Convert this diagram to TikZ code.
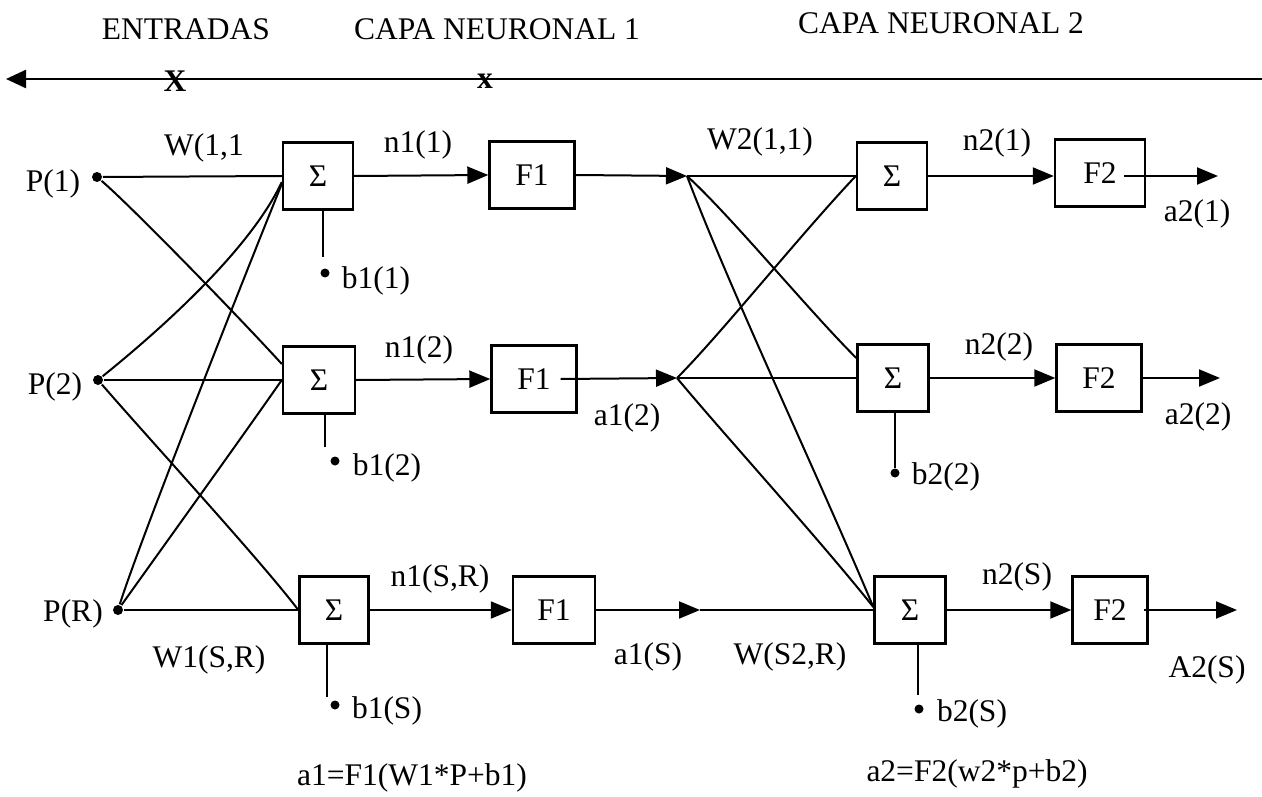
\documentclass[tikz,border=0pt]{standalone}
\usepackage{fontspec}
\setmainfont{Liberation Serif}
\usetikzlibrary{arrows.meta}
\begin{document}
\begin{tikzpicture}[x=1pt,y=-1pt,
  font=\fontsize{31.5}{36}\selectfont,
  line width=2pt,
  box/.style={draw, line width=2.4pt, inner sep=0pt, minimum height=67pt},
  sbox/.style={box, minimum width=70pt},
  lbl/.style={inner sep=0pt},
  pdot/.style={circle, fill, inner sep=0pt, minimum size=10pt},
  bdot/.style={circle, fill, inner sep=0pt, minimum size=9pt},
  arr/.style={-{Triangle[length=21pt,width=17pt]}},
]
\useasboundingbox (0,0) rectangle (1262,797);

% header
\node[lbl, anchor=base] (hin) at (186,40) {ENTRADAS};
\node[lbl, anchor=base] (hc1) at (497,40) {CAPA NEURONAL 1};
\node[lbl, anchor=base] (hc2) at (941,34) {CAPA NEURONAL 2};
\coordinate (axR) at (1262,79);
\coordinate (axL) at (6,79);
\draw[line width=2.4pt, -{Triangle[length=20pt,width=18pt]}] (axR) -- (axL);
\node[lbl, font=\fontsize{31.5}{36}\selectfont\bfseries] (mk1) at (175,81) {X};
\node[lbl, font=\fontsize{31.5}{36}\selectfont\bfseries] (mk2) at (485,81) {x};

% inputs
\node[pdot] (p1) at (97,177) {};
\node[pdot] (p2) at (98,380) {};
\node[pdot] (pR) at (118,610) {};
\node[lbl] (lp1) at (53,184) {P(1)};
\node[lbl] (lp2) at (55,387) {P(2)};
\node[lbl] (lpR) at (73,614) {P(R)};

% layer 1
\node[sbox] (s11) at (318,176) {Σ};
\node[sbox, minimum width=72pt] (s12) at (319,380) {Σ};
\node[sbox, minimum width=69pt] (s13) at (334,610) {Σ};
\node[box, minimum width=85pt] (f11) at (532,175) {F1};
\node[box, minimum width=85pt] (f12) at (534,379) {F1};
\node[box, minimum width=82pt] (f13) at (554,610) {F1};

\draw (p1) -- (s11.west);
\draw (p1) .. controls (130,205) and (240,318) .. ([yshift=16pt]s12.west);
\draw (p2) .. controls (160,330) and (250,250) .. ([yshift=-6pt]s11.west);
\draw (p2) -- (s12.west);
\draw (p2) .. controls (150,440) and (262,562) .. (s13.west);
\draw (pR) .. controls (140,540) and (250,262) .. ([yshift=-8pt]s11.west);
\draw (pR) .. controls (150,565) and (240,440) .. (s12.west);
\draw (pR) -- (s13.west);

\draw[arr] (s11.east) -- (f11.west);
\draw[arr] (s12.east) -- (f12.west);
\draw[arr] (s13.east) -- (f13.west);

\node[lbl] (w11) at (204,148) {W(1,1};
\node[lbl] (n11) at (418,145) {n1(1)};
\node[lbl] (n12) at (419,350) {n1(2)};
\node[lbl] (n1S) at (440,579) {n1(S,R)};
\node[lbl] (w1S) at (209,660) {W1(S,R)};

% biases layer 1
\coordinate (b11e) at (323,257);
\coordinate (b12e) at (325,447);
\coordinate (b13e) at (327,697);
\draw (s11.south -| b11e) -- (b11e);
\draw (s12.south -| b12e) -- (b12e);
\draw (s13.south -| b13e) -- (b13e);
\node[bdot] (d11) at (325,273) {};
\node[bdot] (d12) at (335,461) {};
\node[bdot] (d13) at (335,705) {};
\node[lbl] (lb11) at (376,281) {b1(1)};
\node[lbl] (lb12) at (387,468) {b1(2)};
\node[lbl] (lb13) at (387,711) {b1(S)};

\node[lbl] (eq1) at (412,778) {a1=F1(W1*P+b1)};

% outputs of layer 1
\coordinate (t1) at (687,176);
\coordinate (t2) at (677,378);
\coordinate (t3) at (700,610);
\draw[arr] (f11.east) -- (t1);
\draw[arr] ([xshift=-17pt]f12.east) -- (t2);
\draw[arr] (f13.east) -- (t3);
\node[lbl] (a12) at (627,418) {a1(2)};
\node[lbl] (a1S) at (648,657) {a1(S)};

% layer 2
\node[sbox] (s21) at (892,176) {Σ};
\node[sbox, minimum width=71pt] (s22) at (893,378) {Σ};
\node[sbox, minimum width=71pt] (s23) at (910,610) {Σ};
\node[box, minimum width=90pt] (f21) at (1100,173) {F2};
\node[box, minimum width=85pt] (f22) at (1099,378) {F2};
\node[box, minimum width=75pt] (f23) at (1110,610) {F2};

\draw (t1) -- (s21.west);
\draw (t1) .. controls (730,215) and (810,312) .. ([yshift=20pt]s22.west);
\draw (t1) .. controls (730,290) and (820,480) .. ([yshift=3pt]s23.west);
\draw (t2) .. controls (720,335) and (800,235) .. (s21.west);
\draw (t2) -- (s22.west);
\draw (t2) .. controls (720,430) and (820,540) .. ([yshift=3pt]s23.west);
\draw (t3) -- (s23.west);

\node[lbl] (w21) at (760,142) {W2(1,1)};
\node[lbl] (wS2) at (790,657) {W(S2,R)};

\draw[arr] (s21.east) -- (f21.west |- s21.east);
\draw[arr] (s22.east) -- (f22.west);
\draw[arr] (s23.east) -- (f23.west);
\node[lbl] (n21) at (997,143) {n2(1)};
\node[lbl] (n22) at (999,347) {n2(2)};
\node[lbl] (n2S) at (1017,577) {n2(S)};

% biases layer 2
\coordinate (b22e) at (895,468);
\coordinate (b23e) at (918,695);
\draw (s22.south -| b22e) -- (b22e);
\draw (s23.south -| b23e) -- (b23e);
\node[bdot] (d22) at (895,473) {};
\node[bdot] (d23) at (919,709) {};
\node[lbl] (lb22) at (946,477) {b2(2)};
\node[lbl] (lb23) at (972,714) {b2(S)};

% outputs
\coordinate (o1) at (1218,176);
\coordinate (o2) at (1220,378);
\coordinate (o3) at (1237,610);
\draw[arr] ([xshift=-22pt]f21.east |- s21.east) -- (o1);
\draw[arr] (f22.east) -- (o2);
\draw[arr] ([xshift=-5pt]f23.east) -- (o3);
\node[lbl] (a21) at (1197,214) {a2(1)};
\node[lbl] (a22) at (1198,417) {a2(2)};
\node[lbl] (A2S) at (1207,670) {A2(S)};

\node[lbl] (eq2) at (977,774) {a2=F2(w2*p+b2)};
\end{tikzpicture}
\end{document}
